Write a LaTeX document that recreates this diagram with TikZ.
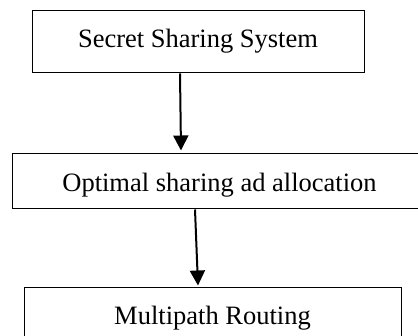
\documentclass[tikz,border=0pt]{standalone}
\usepackage{fontspec}
\setmainfont{Liberation Serif}
\usetikzlibrary{arrows.meta}
\begin{document}
\begin{tikzpicture}[x=1pt,y=-1pt,
  stage/.style={draw=black,line width=1pt,rectangle,inner sep=0pt,
    font=\fontsize{26.5}{30}\selectfont,text depth=0pt},
  flow/.style={draw=black,line width=2pt,-{Triangle[width=15pt,length=15pt]}}]
  \useasboundingbox (0,0) rectangle (418,336);
  % the three processing stages
  \node[stage,minimum width=332pt,minimum height=62pt,text height=12pt]
    (b1) at (198,42) {Secret Sharing System};
  \node[stage,minimum width=415pt,minimum height=55pt,text height=21pt]
    (b2) at (219.5,181.5) {Optimal sharing ad allocation};
  \node[stage,minimum width=377pt,minimum height=55pt,text height=19pt]
    (b3) at (212.5,315.5) {Multipath Routing};
  % arrow tips stop just short of the next box
  \coordinate (a1end) at ([xshift=-38.5pt,yshift=3pt]b2.north);
  \coordinate (a2end) at ([xshift=-14.5pt,yshift=2pt]b3.north);
  \draw[flow] ([xshift=-18pt]b1.south) -- (a1end);
  \draw[flow] ([xshift=-24.5pt]b2.south) -- (a2end);
\end{tikzpicture}
\end{document}
